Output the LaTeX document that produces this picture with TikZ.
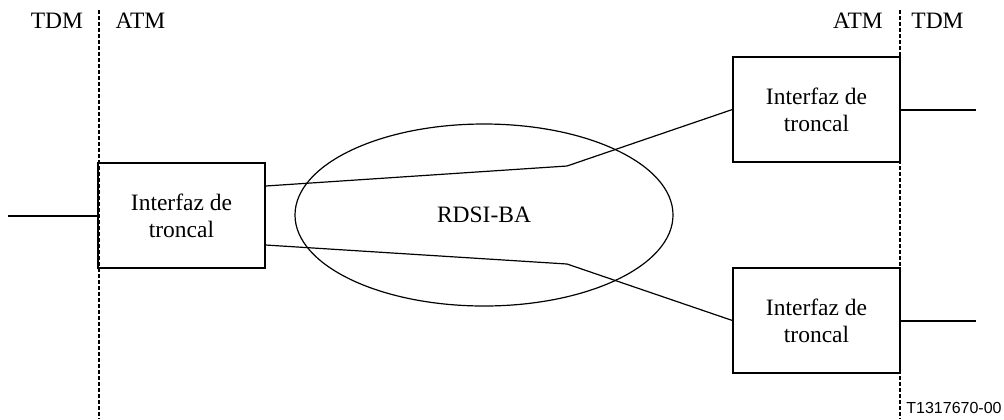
\documentclass[tikz,border=0pt]{standalone}
\usepackage{fontspec}
\setmainfont{Liberation Serif}
\newfontfamily\codefont{Liberation Sans}
\usetikzlibrary{shapes.geometric}

\begin{document}
\begin{tikzpicture}[x=.5pt,y=-.5pt,font=\fontsize{11.75}{13.5}\selectfont,
	interfaz/.style={draw,line width=.6pt,minimum width=83.5pt,minimum height=52.5pt,align=center,inner sep=0pt},
	rede/.style={draw,ellipse,line width=.6pt,minimum width=189pt,minimum height=91pt,inner sep=0pt},
	fronteira/.style={line width=1pt,dash pattern=on 2pt off 1pt},
	tronco/.style={line width=1pt},
	rotulo/.style={inner sep=0pt}]
	\useasboundingbox (0,0) rectangle (1004,419);
	%interfaces
	\node[interfaz] (ie) at (181.5,215.5) {Interfaz de\\troncal};
	\node[interfaz] (ids) at (816.5,109.5) {Interfaz de\\troncal};
	\node[interfaz] (idi) at (816.5,320.5) {Interfaz de\\troncal};
	%rede
	\node[rede] (rdsi) at (484,215) {RDSI-BA};
	%fronteiras
	\draw[fronteira] (99,10) -- (99,419);
	\draw[fronteira] (900,10) -- (900,419);
	%rotulos
	\node[rotulo] (tdmE) at (57,21) {TDM};
	\node[rotulo] (atmE) at (140.5,21) {ATM};
	\node[rotulo] (atmD) at (858,21) {ATM};
	\node[rotulo] (tdmD) at (937.5,21) {TDM};
	\node[rotulo,font=\codefont\fontsize{8}{9.6}\selectfont] (cod) at (954,408) {T1317670-00};
	%ligacoes
	\coordinate (c1) at (567,166);
	\coordinate (c2) at (567,264);
	\draw[line width=.6pt] ([yshift=14.75pt]ie.east) -- (c1) -- (ids.west);
	\draw[line width=.6pt] ([yshift=-14.75pt]ie.east) -- (c2) -- (idi.west);
	%troncos
	\coordinate (pe) at (8,215.5);
	\coordinate (ps) at (976,109.5);
	\coordinate (pi) at (976,320.5);
	\draw[tronco] (pe) -- (ie.west);
	\draw[tronco] (ids.east) -- (ps);
	\draw[tronco] (idi.east) -- (pi);
\end{tikzpicture}
\end{document}
